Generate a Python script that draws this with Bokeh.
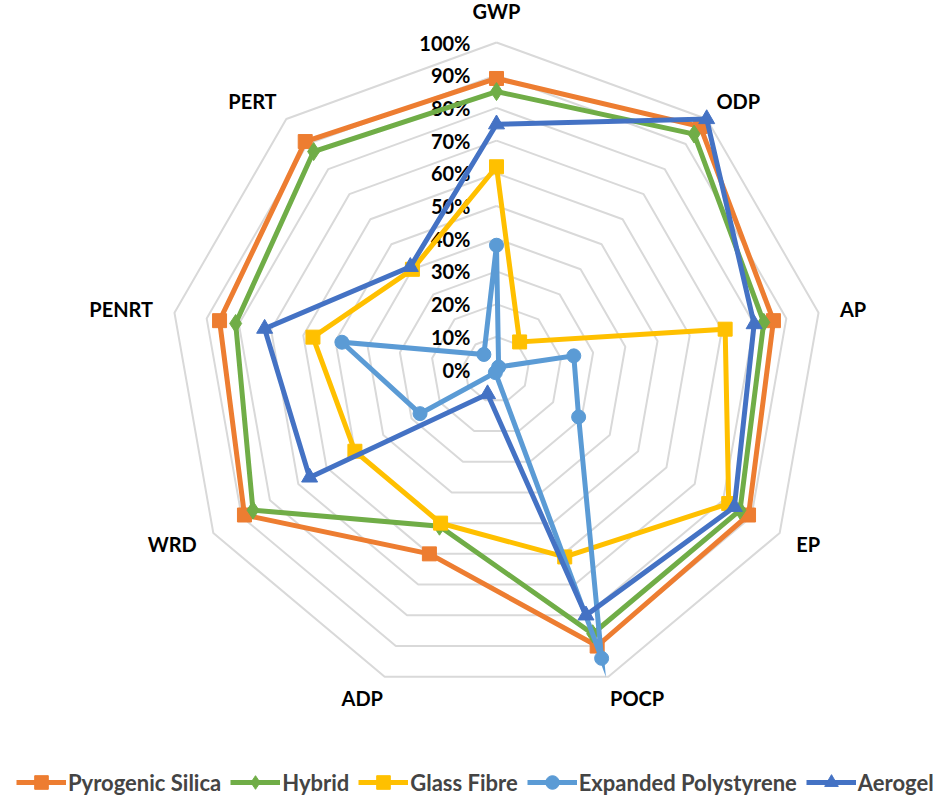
import numpy as np
from bokeh.plotting import figure
from bokeh.models import Range1d, Legend, LegendItem, ColumnDataSource
from bokeh.core.properties import value
from bokeh.embed import file_html
from bokeh.resources import INLINE

categories = ["GWP", "ODP", "AP", "EP", "POCP", "ADP", "WRD", "PENRT", "PERT"]
pyrogenic_silica = [89, 97, 86, 89, 90, 60, 89, 86, 91]
hybrid = [85, 94, 83, 86, 86, 51, 86, 81, 87]
glass_fibre = [62, 11, 71, 82, 61, 50, 50, 57, 40]
expanded_polystyrene = [38, 1, 24, 29, 94, 1, 27, 48, 6]
aerogel = [75, 100, 80, 84, 80, 8, 66, 72, 41]
tick_levels = [0, 10, 20, 30, 40, 50, 60, 70, 80, 90, 100]
tick_labels = [f"{t}%" for t in tick_levels]

series = [
    ("Pyrogenic Silica", pyrogenic_silica, "#ED7D31", "square", 14),
    ("Hybrid", hybrid, "#70AD47", "diamond", 18),
    ("Glass Fibre", glass_fibre, "#FFC000", "square", 14),
    ("Expanded Polystyrene", expanded_polystyrene, "#5B9BD5", "circle", 14),
    ("Aerogel", aerogel, "#4472C4", "triangle", 16),
]

W, H = 950, 802
CX, CY, R = 496, 369, 327
FONT = "Lato"

p = figure(width=W, height=H, output_backend="svg", toolbar_location=None,
           min_border=0, x_range=Range1d(-CX / R, (W - CX) / R),
           y_range=Range1d((CY - H) / R, CY / R))
p.axis.visible = False
p.grid.visible = False
p.outline_line_color = None
p.background_fill_color = "white"

n = len(categories)
ang = np.array([2 * np.pi * i / n for i in range(n)])
sx, sy = np.sin(ang), np.cos(ang)

# grid rings
for t in tick_levels[1:]:
    r = t / 100
    p.line(list(r * sx) + [r * sx[0]], list(r * sy) + [r * sy[0]],
           line_color="#D9D9D9", line_width=2)

# tick labels
p.text(x=[0] * len(tick_levels), y=[t / 100 for t in tick_levels], text=tick_labels,
       x_offset=-26, text_align="right", text_baseline="middle",
       text_font=value(FONT), text_font_style="bold", text_font_size="20px",
       text_color="black")

# category labels
lr = 1.07
lx, ly, al = [], [], []
for i in range(n):
    if abs(sx[i]) < 0.1:
        al.append("center")
        lx.append(0)
        ly.append(1.095)
    else:
        al.append("left" if sx[i] > 0 else "right")
        lx.append(lr * sx[i] - (0.02 if sx[i] > 0 else -0.02) * abs(sy[i]))
        ly.append(lr * sy[i])
src = ColumnDataSource(dict(x=lx, y=ly, t=categories, a=al))
p.text(x="x", y="y", text="t", text_align="a", source=src, text_baseline="middle",
       text_font=value(FONT), text_font_style="bold", text_font_size="20px",
       text_color="black")

items = []
for name, vals, col, mk, sz in series:
    v = np.array(vals) / 100
    xs = list(v * sx) + [v[0] * sx[0]]
    ys = list(v * sy) + [v[0] * sy[0]]
    l = p.line(xs, ys, line_color=col, line_width=5, line_join="miter")
    m = p.scatter(list(v * sx), list(v * sy), marker=mk, size=sz,
                  fill_color=col, line_color=col)
    items.append(LegendItem(label=name, renderers=[l, m]))

legend = Legend(items=items, orientation="horizontal", location=(16, 3),
                label_text_font=FONT, label_text_font_style="bold",
                label_text_font_size="22px", glyph_width=50, glyph_height=34,
                label_standoff=2, spacing=9, padding=0, margin=0,
                border_line_color=None, background_fill_alpha=0)
p.add_layout(legend, "center")

open("out.html", "w").write(file_html(p, INLINE))
